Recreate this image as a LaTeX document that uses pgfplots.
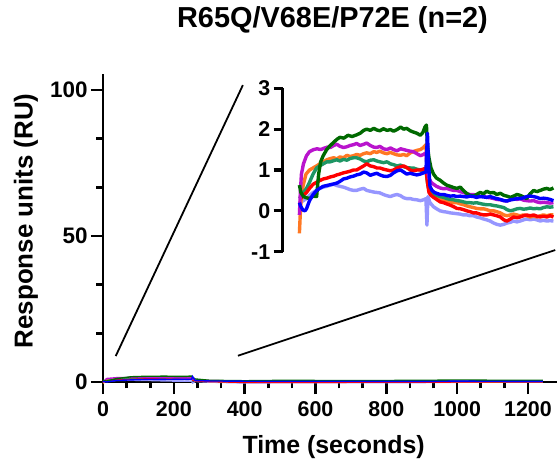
\documentclass[border=0pt]{standalone}
\usepackage{pgfplots}
\pgfplotsset{compat=1.18}
\usepackage{fontspec}
\setmainfont{Liberation Sans}

\definecolor{dkgreen}{RGB}{0,105,0}
\definecolor{violet}{RGB}{185,20,205}
\definecolor{orng}{RGB}{255,120,35}
\definecolor{teal}{RGB}{30,150,100}
\definecolor{rd}{RGB}{255,0,0}
\definecolor{bl}{RGB}{0,0,255}
\definecolor{peri}{RGB}{150,150,255}

% coarse view of all seven curves for the big axis
\pgfplotstableread{
t    dg    pu    or    te    re    bl    pw
0    0.6  -0.1  -0.5   0.3   0.3   0.2   0.2
10   0.3   1.2   0.8   0.5   0.4   0.0   0.27
40   1.2   1.5   1.15  1.1   0.74  0.55  0.55
80   1.8   1.58  1.32  1.22  0.9   0.72  0.6
130  1.98  1.64  1.41  1.21  1.12  0.94  0.52
180  1.99  1.54  1.43  1.15  0.98  0.87  0.35
230  1.9   1.4   1.47  1.02  1.0   0.88  0.27
250  2.05  1.42  1.62  1.0   1.05  0.95  0.3
253  1.6   1.0   0.8   0.7   0.7   1.9  -0.35
260  1.05  0.7   0.42  0.45  0.38  0.5   0.2
300  0.6   0.52  0.22  0.28  0.14  0.36 -0.05
400  0.43  0.26 -0.04  0.11 -0.15  0.27 -0.34
500  0.56  0.2  -0.1   0.1  -0.15  0.25 -0.25
700  0.5   0.2  -0.1   0.1  -0.1   0.25 -0.2
900  0.55  0.2  -0.1   0.1  -0.1   0.2  -0.2
1000 0.7   0.2   0.0   0.2   0.0   0.3  -0.1
1100 0.6   0.25  0.0   0.15  0.0   0.25 -0.1
1242 0.6   0.2   0.0   0.1   0.0   0.2  -0.1
}\overview

\pgfplotstableread{
t v
0 0.63
3 0.45
8 0.35
14 0.32
20 0.30
27 0.36
34 0.35
38 0.9
42 1.2
47 1.35
54 1.5
61 1.6
68 1.68
74 1.75
80 1.8
88 1.78
96 1.85
104 1.82
113 1.86
120 1.9
127 1.97
133 2.0
140 1.97
147 2.02
153 1.98
159 1.96
166 2.01
173 1.97
180 1.99
186 1.95
193 1.99
200 2.05
206 2.0
212 2.02
219 1.96
225 1.93
232 1.9
239 1.85
244 1.92
248 2.05
251 2.1
253 1.6
256 1.3
260 1.05
265 0.9
271 0.8
278 0.75
285 0.68
291 0.63
298 0.6
305 0.57
311 0.55
318 0.58
324 0.5
331 0.42
337 0.38
344 0.36
350 0.4
357 0.45
364 0.42
370 0.48
377 0.44
384 0.45
390 0.4
397 0.43
404 0.38
410 0.36
417 0.33
423 0.36
430 0.4
436 0.38
443 0.34
449 0.3
456 0.42
463 0.5
469 0.47
476 0.5
482 0.53
489 0.55
495 0.52
502 0.56
}\dgdata

\pgfplotstableread{
t v
0 -0.1
2 0.5
4 0.9
8 1.15
14 1.35
20 1.45
28 1.5
35 1.52
42 1.5
48 1.53
55 1.56
61 1.55
68 1.6
74 1.63
80 1.58
87 1.55
94 1.57
100 1.6
107 1.62
113 1.65
120 1.6
127 1.63
133 1.66
140 1.6
147 1.56
153 1.55
159 1.58
166 1.52
173 1.5
180 1.54
186 1.5
193 1.47
200 1.52
206 1.5
212 1.48
219 1.46
225 1.45
232 1.4
239 1.35
245 1.38
250 1.42
253 1.0
256 0.8
260 0.7
265 0.65
271 0.6
278 0.56
285 0.54
291 0.55
298 0.52
305 0.5
311 0.5
318 0.47
324 0.45
331 0.42
337 0.4
344 0.4
350 0.37
357 0.35
364 0.36
370 0.33
377 0.32
384 0.3
390 0.28
397 0.27
404 0.25
410 0.24
417 0.27
423 0.3
430 0.28
436 0.3
443 0.26
449 0.25
456 0.24
463 0.25
469 0.22
476 0.2
482 0.21
489 0.2
495 0.19
502 0.2
}\pudata

\pgfplotstableread{
t v
0 -0.55
2 0.0
4 0.4
8 0.65
13 0.9
20 1.0
27 1.05
34 1.1
40 1.15
47 1.2
54 1.25
61 1.28
68 1.3
74 1.27
80 1.32
87 1.3
94 1.36
100 1.33
107 1.35
113 1.38
120 1.36
127 1.4
133 1.42
140 1.4
147 1.45
153 1.43
159 1.46
166 1.42
173 1.4
180 1.43
186 1.4
193 1.37
200 1.36
206 1.38
212 1.35
219 1.42
225 1.45
232 1.48
239 1.5
245 1.55
250 1.62
253 0.8
256 0.5
260 0.42
265 0.38
271 0.33
278 0.28
285 0.25
291 0.24
298 0.22
305 0.2
311 0.2
318 0.17
324 0.15
331 0.12
337 0.1
344 0.08
350 0.06
357 0.05
364 0.05
370 0.03
377 0.0
384 0.0
390 -0.02
397 -0.05
404 -0.1
410 -0.12
417 -0.1
423 -0.08
430 -0.1
436 -0.12
443 -0.1
449 -0.12
456 -0.15
463 -0.13
469 -0.15
476 -0.12
482 -0.1
489 -0.12
495 -0.1
502 -0.1
}\ordata

\pgfplotstableread{
t v
0 0.3
4 0.35
8 0.45
14 0.55
20 0.7
27 0.9
34 1.05
40 1.1
47 1.15
54 1.2
61 1.2
68 1.23
74 1.25
80 1.22
87 1.26
94 1.24
100 1.28
107 1.3
113 1.3
120 1.27
127 1.22
133 1.2
140 1.24
147 1.25
153 1.22
159 1.2
166 1.18
173 1.2
180 1.15
186 1.13
193 1.1
200 1.12
206 1.08
212 1.06
219 1.05
225 1.05
232 1.02
239 1.0
245 0.98
250 1.0
253 0.7
256 0.5
260 0.45
265 0.42
271 0.38
278 0.35
285 0.33
291 0.3
298 0.28
305 0.27
311 0.25
318 0.24
324 0.22
331 0.2
337 0.2
344 0.19
350 0.2
357 0.18
364 0.16
370 0.15
377 0.15
384 0.13
390 0.12
397 0.1
404 0.08
410 0.03
417 0.0
423 0.02
430 0.05
436 0.06
443 0.04
449 0.05
456 0.07
463 0.05
469 0.06
476 0.05
482 0.08
489 0.1
495 0.09
502 0.1
}\tedata

\pgfplotstableread{
t v
0 0.3
4 0.32
8 0.38
14 0.45
20 0.55
27 0.65
34 0.7
40 0.74
47 0.78
54 0.8
61 0.83
68 0.85
74 0.88
80 0.9
87 0.93
94 0.95
100 0.97
107 1.0
113 1.0
120 1.05
127 1.1
133 1.15
140 1.1
147 1.08
153 1.05
159 1.05
166 1.02
173 1.0
180 0.98
186 1.0
193 1.05
200 1.08
206 1.1
212 1.06
219 1.0
225 0.98
232 1.0
239 1.0
245 1.02
250 1.05
253 0.7
256 0.45
260 0.38
265 0.33
271 0.28
278 0.22
285 0.2
291 0.17
298 0.14
305 0.1
311 0.06
318 0.05
324 0.03
331 0.0
337 -0.02
344 -0.05
350 -0.05
357 -0.08
364 -0.1
370 -0.1
377 -0.08
384 -0.1
390 -0.12
397 -0.15
404 -0.22
410 -0.25
417 -0.2
423 -0.15
430 -0.17
436 -0.15
443 -0.12
449 -0.1
456 -0.12
463 -0.1
469 -0.13
476 -0.15
482 -0.13
489 -0.15
495 -0.12
502 -0.15
}\redata

\pgfplotstableread{
t v
0 0.2
3 0.1
7 0.02
11 0.0
14 0.05
20 0.25
27 0.4
34 0.5
40 0.55
47 0.6
54 0.62
61 0.64
68 0.66
74 0.68
80 0.72
87 0.78
94 0.8
100 0.83
107 0.85
113 0.88
120 0.9
127 0.95
133 0.93
140 0.87
147 0.9
153 0.92
159 0.88
166 0.85
173 0.84
180 0.87
186 0.93
193 0.98
200 1.0
206 0.95
212 0.9
219 0.92
225 0.9
232 0.88
239 0.9
245 0.93
250 0.95
253 1.9
255 1.2
258 0.6
262 0.5
267 0.45
271 0.43
278 0.4
285 0.4
291 0.38
298 0.36
305 0.37
311 0.35
318 0.36
324 0.35
331 0.34
337 0.36
344 0.35
350 0.33
357 0.35
364 0.34
370 0.33
377 0.35
384 0.32
390 0.3
397 0.28
404 0.25
410 0.24
417 0.27
423 0.28
430 0.3
436 0.3
443 0.32
449 0.35
456 0.36
463 0.35
469 0.33
476 0.3
482 0.31
489 0.3
495 0.28
502 0.25
}\bldata

\pgfplotstableread{
t v
0 0.2
4 0.22
8 0.25
14 0.3
20 0.38
27 0.45
34 0.5
40 0.55
47 0.58
54 0.6
61 0.63
68 0.65
74 0.62
80 0.6
87 0.58
94 0.55
100 0.52
107 0.5
113 0.5
120 0.53
127 0.55
133 0.5
140 0.48
147 0.46
153 0.45
159 0.44
166 0.4
173 0.37
180 0.35
186 0.38
193 0.4
200 0.37
206 0.32
212 0.3
219 0.3
225 0.28
232 0.27
239 0.25
245 0.27
250 0.3
252 -0.35
254 0.35
258 0.2
265 0.1
271 0.05
278 0.0
285 -0.02
291 -0.03
298 -0.05
305 -0.06
311 -0.07
318 -0.08
324 -0.1
331 -0.1
337 -0.12
344 -0.12
350 -0.15
357 -0.17
364 -0.2
370 -0.22
377 -0.25
384 -0.3
390 -0.33
397 -0.35
404 -0.33
410 -0.3
417 -0.28
423 -0.25
430 -0.27
436 -0.25
443 -0.22
449 -0.2
456 -0.22
463 -0.2
469 -0.22
476 -0.25
482 -0.23
489 -0.25
495 -0.24
502 -0.25
}\pwdata

\begin{document}
\begin{tikzpicture}
\useasboundingbox (0,0) rectangle (557bp,462bp);

\begin{axis}[
  at={(103bp,80bp)}, anchor=south west,
  scale only axis, width=454bp, height=308bp,
  xmin=0, xmax=1282, ymin=0, ymax=105.5,
  axis x line=bottom, axis y line=left,
  axis line style={-, line width=2.6bp},
  every tick/.style={black, line width=2.6bp},
  xtick align=outside, ytick align=outside,
  major tick length=12bp, minor tick length=6.5bp,
  xtick={0,200,...,1200}, minor x tick num=2,
  ytick={0,50,100}, minor y tick num=2,
  /pgf/number format/1000 sep={},
  /pgf/number format/assume math mode=true,
  tick label style={font=\fontsize{21.5}{22}\selectfont\bfseries},
  yticklabel style={font=\fontsize{22.5}{23}\selectfont\bfseries},
  xticklabel style={yshift=-4bp},
  xlabel={Time (seconds)},
  ylabel={Response units (RU)},
  xlabel style={at={(axis description cs:0.508,-0.212)}, anchor=center,
    font=\fontsize{25}{26}\selectfont\bfseries},
  ylabel style={at={(axis description cs:-0.170,0.523)}, anchor=center, rotate=0,
    font=\fontsize{26}{27}\selectfont\bfseries},
  title={R65Q/V68E/P72E (n=2)},
  title style={at={(axis description cs:0.5055,1.155)}, anchor=center,
    font=\fontsize{29}{30}\selectfont\bfseries},
  clip=false,
  every axis plot/.append style={no marks, line width=1.4bp},
]
\addplot[peri] table[x=t, y=pw] {\overview};
\addplot[orng] table[x=t, y=or] {\overview};
\addplot[teal] table[x=t, y=te] {\overview};
\addplot[rd] table[x=t, y=re] {\overview};
\addplot[violet] table[x=t, y=pu] {\overview};
\addplot[dkgreen] table[x=t, y=dg] {\overview};
\addplot[bl] table[x=t, y=bl] {\overview};
% zoom guide lines
\draw[black, line width=1.8bp] (axis cs:36,8.9) -- (axis cs:395,101.7);
\draw[black, line width=1.8bp] (axis cs:381,9.0) -- (axis cs:1277,45.2);
\end{axis}

\begin{axis}[
  at={(282.7bp,210.3bp)}, anchor=south west,
  scale only axis, width=274.3bp, height=163.4bp,
  xmin=-33, xmax=509, ymin=-1, ymax=3,
  axis x line=none, axis y line=left,
  axis line style={-, line width=3.2bp},
  every tick/.style={black, line width=3.2bp},
  ytick align=outside, major tick length=9bp,
  ytick={-1,0,1,2,3},
  /pgf/number format/assume math mode=true,
  tick label style={font=\fontsize{21.5}{22}\selectfont\bfseries},
  every axis plot/.append style={no marks, line width=3.4bp, line join=round},
]
\addplot[peri] table {\pwdata};
\addplot[orng] table {\ordata};
\addplot[teal] table {\tedata};
\addplot[rd] table {\redata};
\addplot[violet] table {\pudata};
\addplot[dkgreen] table {\dgdata};
\addplot[bl] table {\bldata};
\end{axis}
\end{tikzpicture}
\end{document}
